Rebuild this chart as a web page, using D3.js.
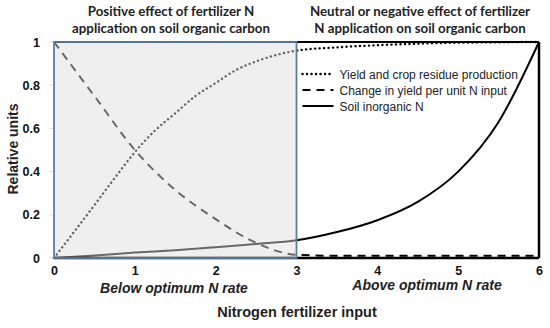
<!DOCTYPE html>
<html>
<head>
<meta charset="utf-8">
<script src="https://cdn.jsdelivr.net/npm/d3@7"></script>
<style>
  body { margin: 0; background: #fff; }
  text { font-family: Arial, "Liberation Sans", sans-serif; }
  text.title { font-family: Lato, "Open Sans", sans-serif; }
</style>
</head>
<body>
<div id="chart"></div>
<script>
// Data
var yieldX = [0, 0.5, 0.75, 1, 1.25, 1.5, 1.75, 2, 2.25, 2.5, 2.75, 3, 3.5, 4, 4.5, 5, 6];
var yieldY = [0, 0.245, 0.37, 0.49, 0.59, 0.67, 0.75, 0.81, 0.87, 0.91, 0.94, 0.96, 0.975, 0.985, 0.992, 0.997, 1];

var changeX = [0, 0.5, 1, 1.5, 2, 2.5, 3, 3.5, 4, 5, 6];
var changeY = [1, 0.75, 0.5, 0.315, 0.18, 0.07, 0.015, 0.01, 0.01, 0.01, 0.01];

var soilX = [0, 0.5, 1, 1.5, 2, 2.5, 3, 3.5, 4, 4.5, 5, 5.5, 6];
var soilY = [0, 0.012, 0.025, 0.036, 0.05, 0.065, 0.082, 0.12, 0.175, 0.26, 0.4, 0.63, 1];

var xTicks = [0, 1, 2, 3, 4, 5, 6];
var yTicks = [0, 0.2, 0.4, 0.6, 0.8, 1];
var legendLabels = ["Yield and crop residue production", "Change in yield per unit N input", "Soil inorganic N"];

var svgWidth = 550, svgHeight = 328;
var margin = { top: 42, right: 11, bottom: 70, left: 54 };
var width = svgWidth - margin.left - margin.right;
var height = svgHeight - margin.top - margin.bottom;

var svg = d3.select("#chart").append("svg")
  .attr("width", svgWidth)
  .attr("height", svgHeight);

var g = svg.append("g")
  .attr("transform", `translate(${margin.left}, ${margin.top})`);

var x = d3.scaleLinear().domain([0, 6]).range([0, width]);
var y = d3.scaleLinear().domain([0, 1]).range([height, 0]);

// clip regions for the two halves
var defs = svg.append("defs");
defs.append("clipPath").attr("id", "leftClip").append("rect")
  .attr("x", -2).attr("y", -5).attr("width", x(3) + 2).attr("height", height + 10);
defs.append("clipPath").attr("id", "rightClip").append("rect")
  .attr("x", x(3)).attr("y", -5).attr("width", width - x(3) + 5).attr("height", height + 10);

// shaded left panel
g.append("rect")
  .attr("x", x(0)).attr("y", y(1))
  .attr("width", x(3) - x(0)).attr("height", y(0) - y(1))
  .attr("fill", "#efefef");

// light y tick marks
g.selectAll(".ytick").data(yTicks).enter().append("line")
  .attr("x1", -5).attr("x2", 0)
  .attr("y1", d => y(d)).attr("y2", d => y(d))
  .attr("stroke", "#ddd");

var series = [
  d3.zip(yieldX, yieldY),
  d3.zip(changeX, changeY),
  d3.zip(soilX, soilY)
];

var line = d3.line()
  .x(d => x(d[0]))
  .y(d => y(d[1]))
  .curve(d3.curveMonotoneX);

function styleLine(sel, i) {
  sel.attr("fill", "none")
    .attr("stroke-width", i == 0 ? 2.4 : 2)
    .attr("stroke-linecap", i == 0 ? "round" : "butt")
    .attr("stroke-dasharray", i == 0 ? "0.1,4.4" : (i == 1 ? "8,6" : null));
}

series.forEach(function(s, i) {
  [["leftClip", "#686868"], ["rightClip", "#000"]].forEach(function(c) {
    g.append("path")
      .datum(s)
      .attr("d", line)
      .attr("clip-path", `url(#${c[0]})`)
      .attr("stroke", c[1])
      .call(styleLine, i);
  });
});

// frame: blue border on left panel, black on right
g.append("line").attr("x1", x(0)).attr("x2", x(6)).attr("y1", y(1)).attr("y2", y(1))
  .attr("stroke", "#000").attr("stroke-width", 2);
g.append("line").attr("x1", x(6)).attr("x2", x(6)).attr("y1", y(1)).attr("y2", y(0))
  .attr("stroke", "#000").attr("stroke-width", 2.5);
g.append("line").attr("x1", x(0)).attr("x2", x(6)).attr("y1", y(0)).attr("y2", y(0))
  .attr("stroke", "#000").attr("stroke-width", 2.5);
g.append("rect")
  .attr("x", x(0)).attr("y", y(1))
  .attr("width", x(3) - x(0)).attr("height", y(0) - y(1))
  .attr("fill", "none")
  .attr("stroke", "#5a7fa6")
  .attr("stroke-width", 1.8);

// axes labels
var bottomAxis = d3.axisBottom(x).tickValues(xTicks).tickSize(0).tickPadding(8).tickFormat(d3.format("d"));
var leftAxis = d3.axisLeft(y).tickValues(yTicks).tickSize(0).tickPadding(14).tickFormat(d => d);

var xAxis = g.append("g").attr("transform", `translate(0, ${height})`).call(bottomAxis);
var yAxis = g.append("g").call(leftAxis);
[xAxis, yAxis].forEach(function(a) {
  a.select(".domain").remove();
  a.selectAll("text")
    .attr("font-size", "12.5px")
    .attr("font-weight", "bold")
    .attr("fill", "#111")
    .style("font-family", "Arial, 'Liberation Sans', sans-serif");
});

// legend
var legend = g.append("g").attr("transform", `translate(${x(3) + 6}, 32)`);
legendLabels.forEach(function(lbl, i) {
  var row = legend.append("g").attr("transform", `translate(0, ${i * 16})`);
  row.append("line")
    .attr("x1", 0).attr("x2", 31).attr("y1", 0).attr("y2", 0)
    .attr("stroke", "#000")
    .call(styleLine, i);
  row.append("text")
    .attr("x", 37).attr("y", 4.5)
    .attr("font-size", "12px")
    .attr("fill", "#222")
    .text(lbl);
});

// panel titles
var titles = [
  { cx: 171, lines: ["Positive effect of fertilizer N", "application on soil organic carbon"] },
  { cx: 420, lines: ["Neutral or negative effect of fertilizer", "N application on soil organic carbon"] }
];
titles.forEach(function(t) {
  t.lines.forEach(function(l, i) {
    svg.append("text")
      .attr("class", "title")
      .attr("x", t.cx).attr("y", 16 + i * 16.5)
      .attr("text-anchor", "middle")
      .attr("font-size", "13.3px")
      .attr("font-weight", "bold")
      .attr("fill", "#222")
      .text(l);
  });
});

// region labels
svg.append("text")
  .attr("x", 174).attr("y", 293)
  .attr("text-anchor", "middle")
  .attr("font-size", "14px").attr("font-weight", "bold").attr("font-style", "italic")
  .attr("fill", "#222")
  .text("Below optimum N rate");
svg.append("text")
  .attr("x", 427).attr("y", 290)
  .attr("text-anchor", "middle")
  .attr("font-size", "14px").attr("font-weight", "bold").attr("font-style", "italic")
  .attr("fill", "#222")
  .text("Above optimum N rate");

// axis titles
svg.append("text")
  .attr("x", 297).attr("y", 317)
  .attr("text-anchor", "middle")
  .attr("font-size", "14.5px").attr("font-weight", "bold")
  .attr("fill", "#222")
  .text("Nitrogen fertilizer input");
svg.append("text")
  .attr("transform", "translate(18, 149) rotate(-90)")
  .attr("text-anchor", "middle")
  .attr("font-size", "14px").attr("font-weight", "bold")
  .attr("fill", "#222")
  .text("Relative units");
</script>
</body>
</html>
